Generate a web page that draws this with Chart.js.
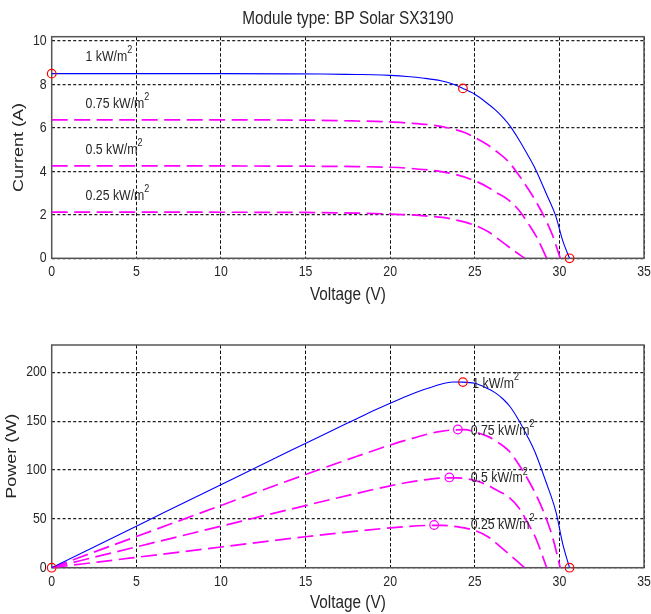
<!DOCTYPE html>
<html>
<head>
<meta charset="utf-8">
<script src="https://cdn.jsdelivr.net/npm/chart.js@4.4.1/dist/chart.umd.min.js"></script>
<style>
  html, body { margin: 0; padding: 0; background: #fff; overflow: hidden; }
  #wrap { position: relative; width: 651px; height: 614px; overflow: hidden; }
  #chart-iv { position: absolute; left: 0; top: 0; }
  #chart-pv { position: absolute; left: 0; top: 310px; }
</style>
</head>
<body>
<div id="wrap">
  <canvas id="chart-iv" width="651" height="310"></canvas>
  <canvas id="chart-pv" width="651" height="304"></canvas>
</div>
<script>
// 1 kW/m2
const v1000 = [0, 5, 10, 14, 16, 18, 19, 20, 21, 22, 23, 23.7, 24.3, 25, 25.6, 26.2, 26.7, 27.1, 27.6, 28.1, 28.6, 29.2, 29.8, 30.2, 30.6];
const i1000 = [8.5, 8.5, 8.5, 8.49, 8.48, 8.46, 8.45, 8.42, 8.37, 8.29, 8.17, 8.02, 7.82, 7.55, 7.22, 6.84, 6.45, 6.07, 5.47, 4.8, 4.08, 3.02, 1.91, 0.8, 0];
const p1000 = [0, 42.5, 85.0, 118.9, 135.7, 152.3, 160.6, 168.4, 175.8, 182.4, 187.9, 190.1, 190.0, 188.8, 184.8, 179.2, 172.2, 164.5, 151.0, 134.9, 116.7, 88.2, 56.9, 24.2, 0];

// 0.75 kW/m2
const v750 = [0, 5, 10, 15, 18, 20, 21, 22.3, 23, 23.9, 24.4, 25, 25.8, 26.2, 27, 27.6, 28.2, 28.7, 29.2, 29.6, 30.05];
const i750 = [6.375, 6.375, 6.37, 6.36, 6.32, 6.28, 6.23, 6.15, 6.07, 5.91, 5.79, 5.56, 5.2, 4.97, 4.44, 3.83, 3.14, 2.5, 1.76, 1.05, 0];
const p750 = [0, 31.9, 63.7, 95.4, 113.8, 125.6, 130.8, 137.1, 139.6, 141.2, 141.3, 139.0, 134.2, 130.2, 119.9, 105.7, 88.5, 71.8, 51.4, 31.1, 0];

// 0.5 kW/m2
const v500 = [0, 5, 10, 15, 18, 20, 21, 22.3, 23.1, 23.9, 25, 25.8, 26.2, 27, 27.6, 28.2, 28.65, 29.25];
const i500 = [4.25, 4.25, 4.25, 4.24, 4.22, 4.19, 4.15, 4.06, 3.98, 3.85, 3.57, 3.26, 3.06, 2.68, 2.22, 1.55, 0.99, 0];
const p500 = [0, 21.3, 42.5, 63.6, 76.0, 83.8, 87.2, 90.5, 91.9, 92.0, 89.3, 84.1, 80.2, 72.4, 61.3, 43.7, 28.4, 0];

// 0.25 kW/m2
const v250 = [0, 5, 10, 15, 18, 20, 21, 22.3, 23.1, 23.9, 25, 25.8, 26.4, 27, 27.4, 27.95];
const i250 = [2.125, 2.125, 2.12, 2.11, 2.08, 2.04, 2.01, 1.94, 1.88, 1.76, 1.52, 1.22, 0.88, 0.53, 0.3, 0];
const p250 = [0, 10.6, 21.2, 31.7, 37.4, 40.8, 42.2, 43.3, 43.4, 42.1, 38.0, 31.5, 23.2, 14.3, 8.2, 0];

// markers: short circuit, max power point, open circuit (1 kW/m2)
const ivMarkV = [0, 24.3, 30.6];
const ivMarkI = [8.5, 7.82, 0];
const pvMarkV = [0, 24.3, 30.6];
const pvMarkP = [0, 190, 0];
// max power points of the lower irradiances
const mppV = [24.0, 23.5, 22.6];
const mppP = [141.5, 92.4, 43.7];

const irrLabels = ["1 kW/m", "0.75 kW/m", "0.5 kW/m", "0.25 kW/m"];
const ivLabelV = [2.0, 2.0, 2.0, 2.0];
const ivLabelI = [9.28, 7.11, 5.0, 2.88];
const pvLabelV = [24.85, 24.76, 24.76, 24.76];
const pvLabelP = [188.3, 140.4, 91.8, 44.2];

const xTicks = [0, 5, 10, 15, 20, 25, 30, 35];

const FONT = '"Liberation Sans", Arial, sans-serif';
const TEXT = "#262626";
const SQUEEZE = 0.82; // text in the picture is condensed sideways
Chart.defaults.color = TEXT;
Chart.defaults.font.family = FONT;

const BLUE = "#0000ff";
const MAGENTA = "#ff00ff";
const RED = "#ff0000";
const DASH = [16, 6.5];

// squeeze every text sideways on screen, round its anchor point
function condensedContext(canvas) {
  const ctx = canvas.getContext("2d");
  const fill = ctx.fillText.bind(ctx);
  ctx.fillText = function (text, x, y, maxWidth) {
    const m = ctx.getTransform();
    const p = m.transformPoint(new DOMPoint(x, y));
    const s = new DOMMatrix().translate(p.x, p.y).scale(SQUEEZE, 1).translate(-p.x, -p.y);
    ctx.setTransform(s.multiply(m));
    if (maxWidth === undefined) fill(text, x, y);
    else fill(text, x, y, maxWidth);
    ctx.setTransform(m);
  };
  return ctx;
}

function pts(xs, ys) {
  return xs.map((x, n) => ({ x: x, y: ys[n] }));
}

function curve(xs, ys, color, dash, width) {
  return {
    data: pts(xs, ys),
    showLine: true,
    borderColor: color,
    borderWidth: width,
    borderDash: dash,
    pointRadius: 0,
    cubicInterpolationMode: "monotone",
    fill: false,
  };
}

function markers(xs, ys, color) {
  return {
    data: pts(xs, ys),
    showLine: false,
    pointStyle: "circle",
    pointRadius: 4.3,
    pointBorderWidth: 1.2,
    pointBorderColor: color,
    pointBackgroundColor: "rgba(0,0,0,0)",
    clip: false,
  };
}

// frame round the plot area, title and the curve labels
const frameAndText = {
  id: "frameAndText",
  beforeDatasetsDraw(chart) {
    const { ctx, chartArea: { left, top, width, height } } = chart;
    ctx.save();
    ctx.strokeStyle = "#555";
    ctx.lineWidth = 1.5;
    ctx.strokeRect(left, top, width, height);
    ctx.restore();
  },
  afterDraw(chart, args, options) {
    const { ctx, chartArea, scales: { x, y } } = chart;
    ctx.save();
    ctx.fillStyle = TEXT;
    if (options.title) {
      ctx.font = "18.7px " + FONT;
      ctx.textAlign = "center";
      ctx.textBaseline = "middle";
      ctx.fillText(options.title, (chartArea.left + chartArea.right) / 2, 18.5);
    }
    ctx.textAlign = "left";
    ctx.textBaseline = "middle";
    options.labelX.forEach((lx, n) => {
      const px = x.getPixelForValue(lx);
      const py = y.getPixelForValue(options.labelY[n]);
      ctx.font = "15px " + FONT;
      ctx.fillText(irrLabels[n], px, py);
      const w = ctx.measureText(irrLabels[n]).width * SQUEEZE;
      ctx.font = "11px " + FONT;
      ctx.fillText("2", px + w, py - 6.5);
    });
    ctx.restore();
  },
};

function axes(yMax, yStep, yTitle, yTitlePad, xHeight, xTitlePad) {
  return {
    x: {
      type: "linear",
      min: 0,
      max: 35,
      afterBuildTicks: (s) => { s.ticks = xTicks.map((v) => ({ value: v })); },
      ticks: { padding: 5, maxRotation: 0, autoSkip: false, font: { size: 15 } },
      grid: { color: "#111", lineWidth: 1, drawTicks: false },
      border: { display: false, dash: [3.5, 2] },
      title: {
        display: true,
        text: "Voltage (V)",
        font: { size: 18.7 },
        padding: { top: 0, bottom: xTitlePad },
      },
      afterFit(s) {
        s.height = xHeight;
        s.paddingLeft = 0;
        s.paddingRight = 0;
      },
    },
    y: {
      type: "linear",
      min: 0,
      max: yMax,
      ticks: { stepSize: yStep, includeBounds: false, padding: 5, font: { size: 15 } },
      grid: { color: "#222", lineWidth: 1.2, drawTicks: false },
      border: { display: false, dash: [3, 2.3] },
      title: {
        display: true,
        text: yTitle,
        font: { size: 18 },
        padding: { top: yTitlePad, bottom: 0 },
      },
      afterFit(s) {
        s.width = 51.7;
        s.paddingTop = 0;
        s.paddingBottom = 0;
      },
    },
  };
}

const ivChart = new Chart(condensedContext(document.querySelector("#chart-iv")), {
  type: "scatter",
  data: {
    datasets: [
      markers(ivMarkV, ivMarkI, RED),
      curve(v1000, i1000, BLUE, [], 1.1),
      curve(v750, i750, MAGENTA, DASH, 1.7),
      curve(v500, i500, MAGENTA, DASH, 1.7),
      curve(v250, i250, MAGENTA, DASH, 1.7),
    ],
  },
  options: {
    responsive: false,
    animation: false,
    devicePixelRatio: 1,
    layout: { padding: { top: 36.7, right: 7, left: 0, bottom: 0 } },
    scales: axes(10.2, 2, "Current (A)", 7.9, 51.7, 3.8),
    plugins: {
      legend: { display: false },
      tooltip: { enabled: false },
      frameAndText: {
        title: "Module type: BP Solar SX3190",
        labelX: ivLabelV,
        labelY: ivLabelI,
      },
    },
  },
  plugins: [frameAndText],
});

const pvChart = new Chart(condensedContext(document.querySelector("#chart-pv")), {
  type: "scatter",
  data: {
    datasets: [
      markers(pvMarkV, pvMarkP, RED),
      markers(mppV, mppP, MAGENTA),
      curve(v1000, p1000, BLUE, [], 1.1),
      curve(v750, p750, MAGENTA, DASH, 1.7),
      curve(v500, p500, MAGENTA, DASH, 1.7),
      curve(v250, p250, MAGENTA, DASH, 1.7),
    ],
  },
  options: {
    responsive: false,
    animation: false,
    devicePixelRatio: 1,
    layout: { padding: { top: 35, right: 7, left: 0, bottom: 0 } },
    scales: axes(228, 50, "Power (W)", 0.9, 46.3, 0),
    plugins: {
      legend: { display: false },
      tooltip: { enabled: false },
      frameAndText: {
        title: null,
        labelX: pvLabelV,
        labelY: pvLabelP,
      },
    },
  },
  plugins: [frameAndText],
});
</script>
</body>
</html>
